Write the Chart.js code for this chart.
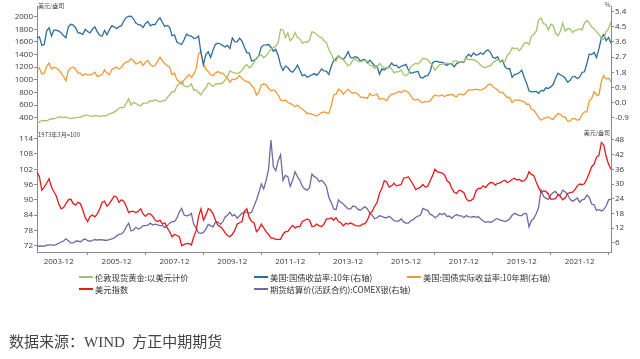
<!DOCTYPE html>
<html><head><meta charset="utf-8">
<script src="https://cdn.jsdelivr.net/npm/chart.js@4.4.0/dist/chart.umd.min.js"></script>
<style>
html,body{margin:0;padding:0;background:#fff;width:640px;height:359px;overflow:hidden;}
#wrap{position:relative;width:640px;height:359px;}
canvas{position:absolute;left:0;top:0;}
.t{position:absolute;white-space:nowrap;font-family:"Noto Sans CJK SC","Noto Sans",sans-serif;color:#333;line-height:1;}
.small{font-size:6px;color:#444;}
.lg{font-size:8.3px;}
.sw{position:absolute;height:1.5px;width:14px;}
.src{font-family:"Liberation Serif","Noto Sans CJK SC",serif;font-size:15px;color:#444;}
</style></head>
<body><div id="wrap">
<canvas id="c1" width="640" height="359"></canvas>
<canvas id="c2" width="640" height="359"></canvas>
<div class="t small" style="left:38px;top:3px;">美元/盎司</div>
<div class="t small" style="left:605px;top:2px;">%</div>
<div class="t small" style="left:38px;top:132px;">1973年3月=100</div>
<div class="t small" style="right:30px;top:130px;">美元/盎司</div>
<div id="legend"></div>
<div class="t src" style="left:9px;top:335px;">数据来源：WIND&nbsp;&nbsp;方正中期期货</div>
</div>
<script>
// ---- categories ----
const months = [];
for (let y = 2003, m = 3; y < 2023 || (y === 2023 && m <= 1);) {
  months.push(y + '-' + String(m).padStart(2, '0'));
  m++; if (m > 12) { m = 1; y++; }
}
const xTickLabels = ['2003-12','2005-12','2007-12','2009-12','2011-12','2013-12','2015-12','2017-12','2019-12','2021-12'];
const xTickMarks = ['2004-12','2006-12','2008-12','2010-12','2012-12','2014-12','2016-12','2018-12','2020-12','2022-12'];

// ---- tick labels ----
const goldTicks = [400,600,800,1000,1200,1400,1600,1800,2000];
const yieldTicks = [-0.9,0.0,0.9,1.8,2.7,3.6,4.5,5.4];
const dxyTicks = [72,78,84,90,96,102,108,114];
const silverTicks = [6,12,18,24,30,36,42,48];

// ---- series (monthly, 2003-03 .. 2023-01) ----
const gold = [
 340,330,358,352,352,368,383,382,395,410,
 412,402,412,396,386,394,400,406,410,424,442,440,
 424,424,432,430,422,432,424,438,462,472,488,512,
 552,560,562,626,700,600,640,628,598,590,630,630,
 636,672,660,684,666,652,668,668,718,760,812,810,
 900,940,975,905,890,895,935,835,840,800,760,830,
 870,950,925,892,935,940,938,950,1000,1050,1140,1120,
 1110,1100,1115,1150,1210,1240,1190,1220,1280,1350,1375,1395,
 1350,1380,1430,1490,1510,1530,1590,1800,1790,1670,1740,1620,
 1660,1750,1670,1650,1580,1600,1595,1630,1760,1750,1720,1680,
 1670,1620,1590,1480,1410,1320,1290,1380,1340,1320,1270,1220,
 1250,1310,1340,1295,1285,1300,1310,1295,1230,1220,1180,1200,
 1260,1225,1180,1200,1195,1175,1110,1130,1125,1160,1080,1065,
 1100,1210,1240,1260,1250,1290,1340,1330,1320,1270,1230,1150,
 1200,1240,1245,1265,1265,1245,1255,1300,1300,1280,1280,1290,
 1340,1320,1325,1320,1300,1270,1230,1200,1195,1215,1220,1270,
 1300,1320,1295,1280,1290,1390,1420,1510,1490,1505,1460,1510,
 1580,1590,1560,1690,1720,1770,1950,1980,1890,1880,1790,1880,
 1860,1740,1700,1770,1900,1770,1810,1810,1750,1780,1790,1810,
 1790,1900,1940,1900,1840,1810,1760,1720,1660,1640,1760,1810,
 1920];
const ust10y = [
 3.85,3.90,3.40,3.45,4.25,4.45,3.95,4.30,4.30,4.25,
 4.15,3.98,3.85,4.50,4.65,4.60,4.45,4.15,4.12,4.05,4.35,4.22,
 4.14,4.36,4.50,4.20,4.00,3.94,4.28,4.02,4.32,4.56,4.50,4.39,
 4.52,4.55,4.85,5.06,5.12,5.14,4.98,4.73,4.63,4.61,4.46,4.70,
 4.82,4.56,4.64,4.63,4.89,5.03,4.76,4.53,4.58,4.47,3.97,4.03,
 3.60,3.51,3.45,3.73,4.06,3.98,3.95,3.82,3.83,3.95,2.93,2.25,
 2.85,3.02,2.68,3.12,3.46,3.53,3.48,3.40,3.30,3.40,3.21,3.84,
 3.62,3.61,3.83,3.65,3.29,2.97,2.94,2.47,2.51,2.60,2.80,3.30,
 3.42,3.43,3.45,3.29,3.05,3.16,2.80,2.22,1.92,2.17,2.08,1.88,
 1.80,1.98,2.22,1.92,1.59,1.67,1.51,1.57,1.65,1.72,1.62,1.78,
 2.00,1.88,1.87,1.67,2.16,2.49,2.60,2.78,2.64,2.57,2.75,3.03,
 2.67,2.66,2.73,2.67,2.48,2.53,2.56,2.35,2.52,2.35,2.18,2.17,
 1.68,2.00,1.94,2.05,2.12,2.35,2.20,2.22,2.06,2.16,2.21,2.27,
 1.94,1.74,1.78,1.83,1.85,1.49,1.46,1.58,1.60,1.84,2.37,2.45,
 2.45,2.39,2.40,2.29,2.21,2.31,2.30,2.12,2.33,2.38,2.42,2.40,
 2.72,2.87,2.74,2.95,2.83,2.85,2.96,2.86,3.05,3.14,2.99,2.69,
 2.63,2.73,2.41,2.51,2.14,2.00,2.02,1.50,1.68,1.69,1.78,1.92,
 1.51,1.15,0.70,0.64,0.65,0.66,0.55,0.72,0.69,0.88,0.84,0.93,
 1.07,1.44,1.74,1.65,1.58,1.45,1.22,1.31,1.52,1.55,1.43,1.52,
 1.79,1.83,2.32,2.89,2.85,2.98,2.67,3.19,3.83,4.05,3.68,3.87,
 3.52];
const tips10y = [
 1.95,2.05,1.70,1.75,2.15,2.35,2.00,2.10,2.05,1.95,
 1.75,1.55,1.30,1.90,2.05,2.10,2.00,1.75,1.75,1.60,1.70,1.65,
 1.65,1.70,1.80,1.55,1.60,1.65,1.95,1.75,1.65,1.95,2.05,2.10,
 2.00,2.10,2.30,2.40,2.45,2.60,2.50,2.30,2.35,2.45,2.20,2.40,
 2.50,2.25,2.15,2.20,2.45,2.70,2.50,2.30,2.20,2.10,1.65,1.75,
 1.35,1.25,1.10,1.35,1.50,1.65,1.50,1.70,2.00,2.90,3.05,2.30,
 2.00,1.85,1.65,1.60,1.75,1.85,1.75,1.75,1.60,1.45,1.20,1.40,
 1.35,1.45,1.60,1.45,1.30,1.25,1.20,1.00,0.85,0.45,0.60,1.05,
 1.10,1.05,0.85,0.70,0.75,0.65,0.45,0.15,0.10,0.15,0.00,-0.05,
 -0.15,-0.25,-0.15,-0.30,-0.40,-0.50,-0.65,-0.65,-0.70,-0.75,-0.80,-0.70,
 -0.60,-0.55,-0.60,-0.65,-0.20,0.45,0.50,0.80,0.70,0.50,0.65,0.80,
 0.65,0.55,0.60,0.50,0.35,0.30,0.30,0.25,0.55,0.40,0.45,0.50,
 0.20,0.25,0.20,0.10,0.35,0.50,0.50,0.60,0.65,0.60,0.70,0.70,
 0.60,0.40,0.20,0.15,0.20,0.05,0.00,0.05,0.05,0.10,0.30,0.45,
 0.40,0.40,0.45,0.35,0.45,0.45,0.50,0.40,0.35,0.50,0.50,0.45,
 0.60,0.75,0.75,0.75,0.80,0.75,0.75,0.80,0.90,1.05,1.10,0.95,
 0.85,0.75,0.60,0.60,0.45,0.30,0.30,0.00,0.15,0.15,0.15,0.10,
 0.05,-0.10,-0.10,-0.40,-0.45,-0.65,-0.90,-1.05,-0.95,-0.90,-0.85,-0.95,
 -1.00,-0.80,-0.65,-0.70,-0.85,-0.85,-1.10,-1.10,-0.95,-0.95,-1.05,-1.00,
 -0.70,-0.55,-0.55,0.10,0.25,0.65,0.45,0.45,1.25,1.60,1.40,1.45,
 1.25];
const dxy = [
 101.0,99.0,93.8,95.0,96.5,98.3,95.0,93.2,91.5,88.5,
 86.5,87.0,88.5,90.0,90.3,88.5,88.0,89.0,88.5,86.0,83.0,81.5,
 83.5,84.0,83.3,84.5,86.5,89.0,89.5,87.5,88.5,90.0,91.5,91.0,
 89.0,90.0,89.5,87.5,85.0,85.5,85.5,85.0,85.5,86.5,84.5,83.5,
 84.5,84.5,83.5,82.0,81.5,82.0,80.5,81.0,79.0,77.5,75.5,76.5,
 76.0,75.5,72.0,72.5,72.8,72.9,72.3,75.5,78.0,83.5,86.5,82.0,
 84.0,86.5,86.0,84.5,82.0,80.0,79.5,78.5,77.0,76.0,75.5,76.5,
 78.0,80.5,81.0,81.5,85.5,86.5,83.0,81.5,81.0,77.5,78.5,80.5,
 79.0,77.5,76.5,75.0,75.0,74.5,74.5,74.5,76.5,77.5,77.5,79.0,
 80.0,79.0,79.5,79.5,81.5,82.0,82.5,82.0,79.5,79.7,80.5,79.8,
 79.5,80.5,82.5,82.5,83.0,82.0,83.0,81.5,81.0,79.8,80.8,80.5,
 80.9,80.5,79.9,79.8,79.8,80.5,80.7,82.0,84.5,85.5,87.5,89.0,
 92.5,94.5,97.5,97.0,95.0,95.5,96.5,95.5,95.8,96.0,98.5,98.7,
 99.0,97.5,96.0,94.0,94.5,95.0,96.0,95.0,95.3,97.5,99.5,102.0,
 101.0,100.8,100.5,99.8,97.5,96.8,94.5,93.0,92.5,93.8,93.5,92.8,
 90.5,89.5,89.8,90.5,93.5,94.5,94.5,95.5,94.8,96.0,96.8,96.7,
 95.8,96.5,96.7,97.3,97.7,96.8,97.3,98.0,98.5,97.8,98.0,97.3,
 97.5,98.5,101.0,100.0,99.5,97.0,94.8,93.0,93.5,93.3,92.3,90.3,
 90.3,90.5,92.0,91.3,90.0,90.8,92.5,92.8,93.0,93.9,95.5,96.2,
 96.0,96.3,98.3,100.5,103.0,104.0,106.8,107.5,112.5,111.5,107.0,104.0,
 102.0];
const silver = [
 4.6,4.55,4.7,4.55,5.0,5.1,5.1,4.95,5.2,5.8,
 6.3,6.7,7.6,6.8,5.9,5.9,6.6,6.7,6.3,7.2,7.5,6.8,
 6.6,7.0,7.3,7.1,7.2,7.2,7.0,7.0,7.3,7.6,8.0,8.8,
 9.4,9.6,10.5,12.5,14.0,10.8,11.2,12.3,11.6,12.0,13.0,13.0,
 13.2,14.0,13.2,13.6,13.3,13.0,13.0,12.2,13.0,14.0,14.6,14.6,
 16.0,18.5,20.0,17.3,17.0,17.2,18.0,13.5,12.0,10.0,9.8,10.2,
 11.5,13.5,13.0,12.5,14.5,14.5,13.5,14.5,16.5,17.2,18.5,17.0,
 17.5,16.0,17.0,18.0,18.5,18.5,18.0,18.5,21.0,23.5,26.5,30.0,
 28.0,31.5,36.0,48.0,37.0,35.5,39.5,42.0,31.5,33.5,33.0,29.0,
 31.5,35.0,33.0,31.5,29.0,28.0,27.5,28.5,34.0,33.0,32.5,31.0,
 31.5,30.5,29.0,24.5,22.5,19.8,19.5,23.5,22.5,21.8,20.8,19.8,
 19.8,21.0,20.8,19.7,19.3,20.0,20.8,19.8,18.0,17.2,15.8,16.2,
 17.0,16.8,16.3,16.2,16.8,16.0,15.0,14.8,14.8,15.8,14.5,14.0,
 14.0,15.0,15.4,16.3,16.9,17.2,20.0,19.5,19.2,17.6,17.2,16.2,
 16.8,17.9,17.5,18.0,16.7,16.9,16.0,16.9,17.5,17.0,17.0,16.3,
 17.1,16.6,16.5,16.7,16.5,16.6,15.7,14.9,14.3,14.6,14.3,14.7,
 15.6,15.8,15.2,15.0,14.6,15.0,15.8,17.2,18.0,17.6,17.1,17.1,
 18.0,17.8,12.5,15.0,16.0,17.8,20.5,27.5,25.0,24.2,23.7,25.5,
 26.5,27.0,25.5,25.5,27.5,26.8,25.8,23.8,23.0,23.5,24.3,22.6,
 23.5,23.8,25.5,24.5,21.8,21.5,19.2,19.5,19.0,19.6,21.0,23.5,
 23.8];

const seriesNames = ['伦敦现货黄金:以美元计价','美国:国债收益率:10年(右轴)','美国:国债实际收益率:10年期(右轴)','美元指数','期货结算价(活跃合约):COMEX银(右轴)'];

// ---- styles ----
const GREEN = '#a3c46a', BLUE = '#2b6f9c', ORANGE = '#f09a36', RED = '#e8191b', PURPLE = '#7168a8';
const AX = '#8a8a8a', TXT = '#3a3a3a';
const tickFont = {family: '"Open Sans","Liberation Sans",sans-serif', size: 8};
const W = 640, H = 359;
const LEFT_W = 37, RIGHT_W = 29;

function yAxis(pos, min, max, ticksArr, fmt) {
  return {
    position: pos, min: min, max: max,
    afterFit: s => { s.width = pos === 'left' ? LEFT_W : RIGHT_W; },
    afterBuildTicks: s => { s.ticks = ticksArr.map(v => ({value: v})); },
    grid: {drawOnChartArea: false, drawTicks: true, tickLength: 3, tickColor: AX},
    border: {display: true, color: AX, width: 1},
    ticks: {font: tickFont, color: TXT, padding: 1, callback: fmt}
  };
}
const common = {
  responsive: false, animation: false, events: [],
  plugins: {legend: {display: false}, tooltip: {enabled: false}},
  elements: {point: {radius: 0}, line: {borderWidth: 1.3, tension: 0}}
};

// top panel
new Chart(document.getElementById('c1'), {
  type: 'line',
  data: {labels: months, datasets: [
    {label: seriesNames[0], data: gold, yAxisID: 'yL', borderColor: GREEN},
    {label: seriesNames[1], data: ust10y, yAxisID: 'yR', borderColor: BLUE},
    {label: seriesNames[2], data: tips10y, yAxisID: 'yR', borderColor: ORANGE}
  ]},
  options: Object.assign({}, common, {
    layout: {padding: {top: 6, bottom: H - 128, left: 0, right: 0}},
    scales: {
      x: {display: false},
      yL: yAxis('left', 236.8, 2169.5, goldTicks, v => String(v)),
      yR: yAxis('right', -1.512, 5.739, yieldTicks, v => v.toFixed(1))
    }
  })
});

// bottom panel
const X_H = 22;
new Chart(document.getElementById('c2'), {
  type: 'line',
  data: {labels: months, datasets: [
    {label: seriesNames[3], data: dxy, yAxisID: 'yL', borderColor: RED},
    {label: seriesNames[4], data: silver, yAxisID: 'yR', borderColor: PURPLE}
  ]},
  options: Object.assign({}, common, {
    layout: {padding: {top: 128, bottom: H - 252 - X_H, left: 0, right: 0}},
    scales: {
      x: {
        afterFit: s => { s.height = X_H; },
        grid: {drawOnChartArea: false, drawTicks: true, tickLength: 3,
               tickColor: ctx => xTickMarks.includes(months[ctx.index]) ? AX : 'rgba(0,0,0,0)'},
        border: {display: true, color: AX, width: 1},
        ticks: {autoSkip: false, maxRotation: 0, minRotation: 0, font: tickFont, color: TXT, padding: 2,
                callback: (v, i) => xTickLabels.includes(months[i]) ? months[i] : ''}
      },
      yL: yAxis('left', 69.53, 118.2, dxyTicks, v => String(v)),
      yR: yAxis('right', 2.2, 52.9, silverTicks, v => String(v))
    }
  })
});

// legend (HTML)
const legendItems = [
  {name: seriesNames[0], color: GREEN, x: 79, y: 277},
  {name: seriesNames[1], color: BLUE, x: 254, y: 277},
  {name: seriesNames[2], color: ORANGE, x: 407, y: 277},
  {name: seriesNames[3], color: RED, x: 79, y: 289},
  {name: seriesNames[4], color: PURPLE, x: 254, y: 289}
];
const lg = document.getElementById('legend');
legendItems.forEach(it => {
  const sw = document.createElement('div');
  sw.className = 'sw';
  sw.style.left = it.x + 'px'; sw.style.top = (it.y - 0.75) + 'px'; sw.style.background = it.color;
  lg.appendChild(sw);
  const t = document.createElement('div');
  t.className = 't lg';
  t.style.left = (it.x + 16) + 'px'; t.style.top = (it.y - 4.5) + 'px';
  t.textContent = it.name;
  lg.appendChild(t);
});
</script>
</body></html>
